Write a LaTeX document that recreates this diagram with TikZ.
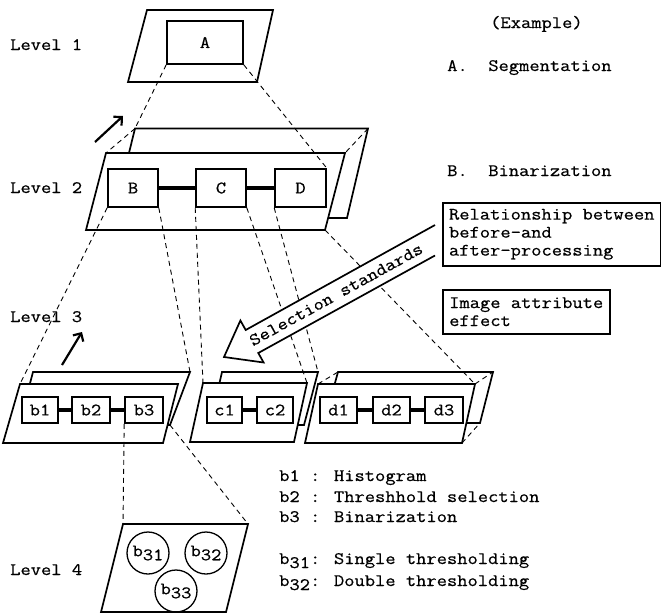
\documentclass[tikz,border=0pt]{standalone}
\usepackage{fontspec}
\newfontfamily\tw[FakeStretch=1.14, FakeBold=0.6]{Latin Modern Mono}
\usetikzlibrary{arrows.meta}
\begin{document}
\begin{tikzpicture}[x=1pt,y=-1pt,
  txt/.style={font=\tw\fontsize{17.5}{18}\selectfont, inner sep=0pt},
  plane/.style={draw, fill=white, line width=1.7pt},
  box/.style={txt, draw, fill=white, line width=1.6pt, inner sep=0pt},
  bubble/.style={txt, circle, draw, line width=1.3pt, minimum size=42pt, inner sep=0pt},
  link/.style={line width=3.4pt},
  proj/.style={line width=0.9pt, dash pattern=on 5pt off 4pt},
  lift/.style={line width=2.2pt, -{Straight Barb[length=6pt, width=12pt]}},
  note/.style={txt, draw, line width=1.5pt, anchor=north west, align=left, inner xsep=4pt, inner ysep=0pt}
]
\useasboundingbox (0,0) rectangle (661,614);

% ---------- level 1 ----------
\coordinate (L1a) at (147,10);  \coordinate (L1b) at (273,10);
\coordinate (L1c) at (257,82);  \coordinate (L1d) at (128,82);
\draw[plane] (L1a) -- (L1b) -- (L1c) -- (L1d) -- cycle;
\node[box, minimum width=76pt, minimum height=43pt] (A) at (205,42.5) {A};

% ---------- level 2 (back and front planes) ----------
\coordinate (L2bTL) at (135,128.5); \coordinate (L2bTR) at (368,128.5);
\coordinate (L2bBR) at (347,218);   \coordinate (L2bBL) at (113,218);
\coordinate (L2fTL) at (106,153);   \coordinate (L2fTR) at (345,153);
\coordinate (L2fBR) at (325,230);   \coordinate (L2fBL) at (86,230);
\draw[plane] (L2bTL) -- (L2bTR) -- (L2bBR) -- (L2bBL) -- cycle;
\draw[plane] (L2fTL) -- (L2fTR) -- (L2fBR) -- (L2fBL) -- cycle;
\node[box, minimum width=50pt, minimum height=38pt] (B) at (133,188) {B};
\node[box, minimum width=50pt, minimum height=38pt] (C) at (221,188) {C};
\node[box, minimum width=51pt, minimum height=38pt] (D) at (300.5,188) {D};
\draw[link] (B.east) -- (C.west);
\draw[link] (C.east) -- (D.west);

% ---------- level 3 ----------
% group b
\coordinate (bbTL) at (33,372);  \coordinate (bbTR) at (190,372);
\coordinate (bbBR) at (170,425); \coordinate (bbBL) at (19,425);
\coordinate (bfTL) at (20,384);  \coordinate (bfTR) at (178,384);
\coordinate (bfBR) at (163,443); \coordinate (bfBL) at (3,443);
% group c
\coordinate (cbTL) at (222,372); \coordinate (cbTR) at (318,372);
\coordinate (cbBR) at (304,425); \coordinate (cbBL) at (210,425);
\coordinate (cfTL) at (203,383); \coordinate (cfTR) at (307,383);
\coordinate (cfBR) at (294,442); \coordinate (cfBL) at (190,442);
% group d
\coordinate (dbTL) at (338,372); \coordinate (dbTR) at (493,372);
\coordinate (dbBR) at (480,423); \coordinate (dbBL) at (324,423);
\coordinate (dfTL) at (318,384); \coordinate (dfTR) at (475,384);
\coordinate (dfBR) at (462,443); \coordinate (dfBL) at (305,443);

\draw[plane] (bbTL) -- (bbTR) -- (bbBR) -- (bbBL) -- cycle;
\draw[plane] (bfTL) -- (bfTR) -- (bfBR) -- (bfBL) -- cycle;
\draw[plane] (cbTL) -- (cbTR) -- (cbBR) -- (cbBL) -- cycle;
\draw[plane] (cfTL) -- (cfTR) -- (cfBR) -- (cfBL) -- cycle;
\draw[plane] (dbTL) -- (dbTR) -- (dbBR) -- (dbBL) -- cycle;
\draw[plane] (dfTL) -- (dfTR) -- (dfBR) -- (dfBL) -- cycle;

\node[box, minimum width=36pt, minimum height=26pt] (b1) at (40,410) {b1};
\node[box, minimum width=38pt, minimum height=26pt] (b2) at (91,410) {b2};
\node[box, minimum width=38pt, minimum height=26pt] (b3) at (144,410) {b3};
\node[box, minimum width=35pt, minimum height=26pt] (c1) at (224.5,410) {c1};
\node[box, minimum width=36pt, minimum height=26pt] (c2) at (275,410) {c2};
\node[box, minimum width=37pt, minimum height=26pt] (d1) at (338.5,410) {d1};
\node[box, minimum width=37pt, minimum height=26pt] (d2) at (391.5,410) {d2};
\node[box, minimum width=38pt, minimum height=26pt] (d3) at (444,410) {d3};
\draw[link] (b1.east) -- (b2.west);
\draw[link] (b2.east) -- (b3.west);
\draw[link] (c1.east) -- (c2.west);
\draw[link] (d1.east) -- (d2.west);
\draw[link] (d2.east) -- (d3.west);

% ---------- level 4 ----------
\coordinate (L4a) at (123,524); \coordinate (L4b) at (248,524);
\coordinate (L4c) at (226,612); \coordinate (L4d) at (101,612);
\draw[plane] (L4a) -- (L4b) -- (L4c) -- (L4d) -- cycle;
\node[bubble] (b31) at (148,553) {b\raisebox{-4pt}{31}};
\node[bubble] (b32) at (206,553) {b\raisebox{-4pt}{32}};
\node[bubble] (b33) at (176,591) {b\raisebox{-4pt}{33}};

% ---------- level labels ----------
\node[txt, anchor=base west] (lv1) at (10,50) {Level 1};
\node[txt, anchor=base west] (lv2) at (10,193) {Level 2};
\node[txt, anchor=base west] (lv3) at (10,322) {Level 3};
\node[txt, anchor=base west] (lv4) at (10,575) {Level 4};

% ---------- projection lines between levels ----------
\draw[proj] (A.south west) -- (L2bTL);
\draw[proj] (L2bTL) -- (L2fTL);
\draw[proj] (L2bTR) -- (L2fTR);
\draw[proj] (A.south east) -- (D.north east);
\draw[proj] (B.south west) -- (bfTL);
\draw[proj] (B.south east) -- (bbTR);
\draw[proj] (C.south west) -- (cfTL);
\draw[proj] (C.south east) -- (cfTR);
\draw[proj] (D.south west) -- (cbTR);
\draw[proj] (L2fBR) -- (dfTR);
\draw[proj] (dfTL) -- (dbTL);
\draw[proj] (dfTR) -- (dbTR);
\draw[proj] (dfBR) -- (dbBR);
\draw[proj] (b3.south west) -- (L4a);
\draw[proj] (bbBR) -- (L4b);

% ---------- upward arrows ----------
\coordinate (up2s) at (95,142); \coordinate (up2e) at (123,116);
\coordinate (up3s) at (62,365); \coordinate (up3e) at (82,332);
\draw[lift] (up2s) -- (up2e);
\draw[lift] (up3s) -- (up3e);

% ---------- selection standards arrow ----------
\coordinate (s1) at (435,225);      \coordinate (s2) at (245.7,330);
\coordinate (s3) at (240.4,320.5);  \coordinate (s4) at (224,357);
\coordinate (s5) at (263.6,362.5);  \coordinate (s6) at (258.3,353);
\coordinate (s7) at (435,255.5);
\path[draw, fill=white, line width=1.7pt] (s1) -- (s2) -- (s3) -- (s4) -- (s5) -- (s6) -- (s7);
\node[txt, rotate=28.9] (sel) at (336,294.5) {Selection standards};

% ---------- notes on the right ----------
\node[txt, anchor=base west] (ex) at (490,28) {(Example)};
\node[txt, anchor=base west] (exA) at (447,71) {A.~~Segmentation};
\node[txt, anchor=base west] (exB) at (447,176) {B.~~Binarization};
\node[note, minimum width=218pt, minimum height=63pt] (rel) at (442,202)
  {Relationship between\\before-and\\after-processing};
\node[note, minimum width=167pt, minimum height=44pt] (img) at (442,289)
  {Image attribute\\effect};

% ---------- legend ----------
\node[txt, anchor=base west] (k1) at (279,481) {b1 : Histogram};
\node[txt, anchor=base west] (k2) at (279,502) {b2 : Threshhold selection};
\node[txt, anchor=base west] (k3) at (279,522) {b3 : Binarization};
\node[txt, anchor=base west] (k31) at (279,564) {b\raisebox{-4pt}{31}: Single thresholding};
\node[txt, anchor=base west] (k32) at (279,586) {b\raisebox{-4pt}{32}: Double thresholding};
\end{tikzpicture}
\end{document}
